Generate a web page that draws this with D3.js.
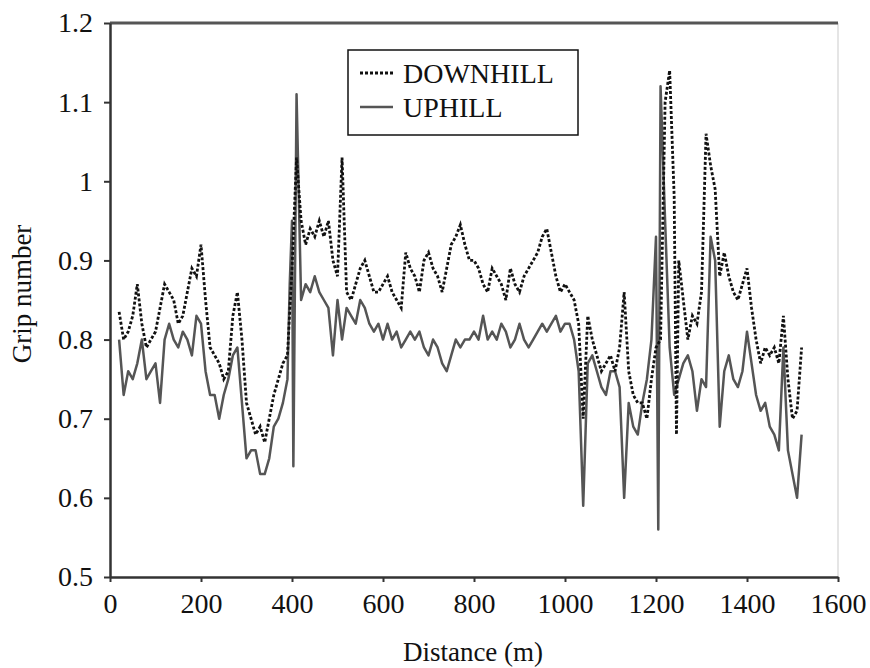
<!DOCTYPE html>
<html>
<head>
<meta charset="utf-8">
<script src="https://cdn.jsdelivr.net/npm/d3@7"></script>
<style>
  body { margin: 0; background: #fff; }
  text { font-family: "Liberation Serif", "Times New Roman", serif; }
</style>
</head>
<body>
<svg id="chart" width="870" height="668"></svg>
<script>
// downhill run, grip number every ~10 m
var downDist = [20,30,40,50,60,70,80,90,100,110,120,130,140,150,160,170,180,190,200,210,
  220,230,240,250,260,270,280,290,300,310,320,330,340,350,360,370,380,390,400,410,
  420,430,440,450,460,470,480,490,500,510,520,530,540,550,560,570,580,590,600,610,
  620,630,640,650,660,670,680,690,700,710,720,730,740,750,760,770,780,790,800,810,
  820,830,840,850,860,870,880,890,900,910,920,930,940,950,960,970,980,990,1000,1010,
  1020,1030,1040,1050,1060,1070,1080,1090,1100,1110,1120,1130,1140,1150,1160,1170,1180,1190,1200,1210,
  1220,1230,1240,1245,1250,1260,1270,1280,1290,1300,1310,1320,1330,1340,1350,1360,1370,1380,1390,1400,
  1410,1420,1430,1440,1450,1460,1470,1480,1490,1500,1510,1520];
var downGrip = [0.835,0.80,0.81,0.83,0.87,0.82,0.79,0.80,0.81,0.84,0.87,0.86,0.85,0.82,0.83,0.86,0.89,0.88,0.92,0.85,
  0.79,0.78,0.77,0.75,0.76,0.83,0.86,0.80,0.72,0.70,0.68,0.69,0.67,0.70,0.73,0.75,0.77,0.78,0.89,1.03,
  0.95,0.92,0.94,0.93,0.95,0.93,0.95,0.90,0.88,1.03,0.86,0.85,0.87,0.89,0.90,0.88,0.86,0.86,0.87,0.88,
  0.86,0.85,0.84,0.91,0.89,0.88,0.86,0.90,0.91,0.89,0.88,0.86,0.89,0.92,0.93,0.945,0.92,0.90,0.90,0.89,
  0.87,0.86,0.89,0.88,0.87,0.85,0.89,0.87,0.86,0.88,0.89,0.90,0.91,0.93,0.94,0.91,0.88,0.86,0.87,0.86,
  0.85,0.82,0.70,0.83,0.80,0.78,0.76,0.77,0.78,0.76,0.79,0.86,0.76,0.73,0.72,0.72,0.70,0.75,0.79,0.80,
  1.10,1.14,0.98,0.68,0.90,0.85,0.80,0.83,0.82,0.86,1.06,1.02,0.99,0.88,0.91,0.88,0.86,0.85,0.87,0.89,
  0.84,0.80,0.77,0.79,0.78,0.79,0.77,0.83,0.75,0.70,0.71,0.79];

// uphill run
var upDist = [20,30,40,50,60,70,80,90,100,110,120,130,140,150,160,170,180,190,200,210,
  220,230,240,250,260,270,280,290,300,310,320,330,340,350,360,370,380,390,395,400,
  403,410,420,430,440,450,460,470,480,490,500,510,520,530,540,550,560,570,580,590,
  600,610,620,630,640,650,660,670,680,690,700,710,720,730,740,750,760,770,780,790,
  800,810,820,830,840,850,860,870,880,890,900,910,920,930,940,950,960,970,980,990,
  1000,1010,1020,1030,1040,1050,1060,1070,1080,1090,1100,1110,1120,1130,1140,1150,1160,1170,1180,1190,
  1200,1205,1210,1220,1230,1240,1250,1260,1270,1280,1290,1300,1310,1320,1330,1340,1350,1360,1370,1380,
  1390,1400,1410,1420,1430,1440,1450,1460,1470,1480,1490,1500,1510,1520];
var upGrip = [0.80,0.73,0.76,0.75,0.77,0.80,0.75,0.76,0.77,0.72,0.80,0.82,0.80,0.79,0.81,0.80,0.78,0.83,0.82,0.76,
  0.73,0.73,0.70,0.73,0.75,0.78,0.79,0.72,0.65,0.66,0.66,0.63,0.63,0.65,0.69,0.70,0.72,0.75,0.87,0.95,
  0.64,1.11,0.85,0.87,0.86,0.88,0.86,0.85,0.84,0.78,0.85,0.80,0.84,0.83,0.82,0.85,0.84,0.82,0.81,0.82,
  0.80,0.82,0.80,0.81,0.79,0.80,0.81,0.80,0.81,0.79,0.78,0.80,0.79,0.77,0.76,0.78,0.80,0.79,0.80,0.80,
  0.81,0.80,0.83,0.80,0.81,0.80,0.82,0.81,0.79,0.80,0.82,0.80,0.79,0.80,0.81,0.82,0.81,0.82,0.83,0.81,
  0.82,0.82,0.80,0.76,0.59,0.77,0.78,0.76,0.74,0.73,0.76,0.76,0.74,0.60,0.72,0.69,0.68,0.72,0.75,0.80,
  0.93,0.56,1.12,0.95,0.79,0.73,0.75,0.77,0.78,0.76,0.71,0.75,0.74,0.93,0.90,0.69,0.76,0.78,0.75,0.74,
  0.76,0.81,0.77,0.73,0.71,0.72,0.69,0.68,0.66,0.79,0.66,0.63,0.60,0.68];

var xTicks = [0,200,400,600,800,1000,1200,1400,1600];
var yTicks = [0.5,0.6,0.7,0.8,0.9,1,1.1,1.2];

var svg = d3.select('#chart');
var plotLeft = 110, plotRight = 838, plotTop = 23, plotBottom = 577;

var x = d3.scaleLinear().domain([0, 1600]).range([plotLeft, plotRight]);
var y = d3.scaleLinear().domain([0.5, 1.2]).range([plotBottom, plotTop]);

svg.append('rect').attr('width', 870).attr('height', 668).attr('fill', 'white');

// frame: light right edge, heavy top edge
svg.append('line')
    .attr('x1', plotRight).attr('x2', plotRight).attr('y1', plotTop).attr('y2', plotBottom)
    .attr('stroke', '#ddd').attr('stroke-width', 1.5);
svg.append('line')
    .attr('x1', plotLeft).attr('x2', plotRight).attr('y1', plotTop).attr('y2', plotTop)
    .attr('stroke', '#555').attr('stroke-width', 3);

var line = d3.line()
    .x(d => x(d[0]))
    .y(d => y(d[1]));

svg.append('path')
    .datum(upDist.map((d, i) => [d, upGrip[i]]))
    .attr('fill', 'none')
    .attr('stroke', '#555')
    .attr('stroke-width', 2.5)
    .attr('stroke-linejoin', 'round')
    .attr('d', line);

svg.append('path')
    .datum(downDist.map((d, i) => [d, downGrip[i]]))
    .attr('fill', 'none')
    .attr('stroke', '#111')
    .attr('stroke-width', 2.8)
    .attr('stroke-dasharray', '3,2')
    .attr('d', line);

var xAxis = svg.append('g')
    .attr('transform', 'translate(0,' + plotBottom + ')')
    .call(d3.axisBottom(x).tickValues(xTicks).tickSize(5).tickSizeOuter(0).tickPadding(11).tickFormat(d3.format('d')));
var yAxis = svg.append('g')
    .attr('transform', 'translate(' + plotLeft + ',0)')
    .call(d3.axisLeft(y).tickValues(yTicks).tickSize(6).tickSizeOuter(0).tickPadding(11).tickFormat(d => d === 1 ? '1' : d3.format('.1f')(d)));

[xAxis, yAxis].forEach(function(g) {
    g.select('.domain').attr('stroke', '#333').attr('stroke-width', 2.5);
    g.selectAll('.tick line').attr('stroke', '#333').attr('stroke-width', 2);
    g.selectAll('.tick text')
        .attr('fill', '#111')
        .style('font-size', '28px')
        .style('font-family', '"Liberation Serif", serif');
});

svg.append('text')
    .attr('x', 473).attr('y', 661)
    .attr('text-anchor', 'middle')
    .style('font-size', '27px')
    .attr('fill', '#111')
    .text('Distance (m)');

svg.append('text')
    .attr('transform', 'translate(31,294) rotate(-90)')
    .attr('text-anchor', 'middle')
    .style('font-size', '27px')
    .attr('fill', '#111')
    .text('Grip number');

// legend
var legend = svg.append('g');
legend.append('rect')
    .attr('x', 348).attr('y', 50).attr('width', 230).attr('height', 85)
    .attr('fill', 'white').attr('stroke', '#111').attr('stroke-width', 1.5);
legend.append('line')
    .attr('x1', 360).attr('x2', 393).attr('y1', 73).attr('y2', 73)
    .attr('stroke', '#111').attr('stroke-width', 2.8).attr('stroke-dasharray', '3,2');
legend.append('line')
    .attr('x1', 360).attr('x2', 393).attr('y1', 107).attr('y2', 107)
    .attr('stroke', '#555').attr('stroke-width', 2.5);
legend.append('text')
    .attr('x', 403).attr('y', 83)
    .style('font-size', '28px').attr('fill', '#111')
    .text('DOWNHILL');
legend.append('text')
    .attr('x', 403).attr('y', 117)
    .style('font-size', '28px').attr('fill', '#111')
    .text('UPHILL');
</script>
</body>
</html>
